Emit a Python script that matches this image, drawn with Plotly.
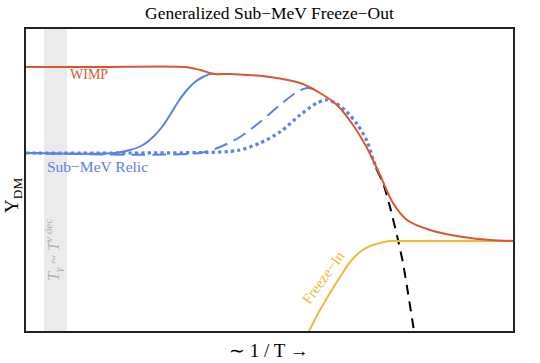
import plotly.graph_objects as go

# ---- data (arbitrary units) ----
wimp_x = [0, 74, 159, 174, 189, 204, 244, 274, 294, 311, 327, 341, 354, 367, 381, 404, 437, 464, 487]
wimp_y = [264, 264, 264, 261, 257, 257, 254, 248, 238, 226, 206, 183, 156, 128, 111, 101, 94, 91, 90]

relic_solid_x = [0, 89, 104, 117, 127, 136, 144, 152, 161, 169, 177, 184, 190]
relic_solid_y = [178, 178, 181, 186, 194, 204, 216, 229, 241, 249, 254, 257, 257]

relic_dash_x = [0, 174, 194, 214, 234, 254, 271, 281, 290]
relic_dash_y = [178, 178, 184, 194, 209, 226, 239, 243, 241]

relic_dot_x = [0, 194, 214, 234, 254, 274, 291, 301, 311, 321, 331, 341, 347, 352]
relic_dot_y = [178, 179, 181, 188, 199, 216, 228, 231, 227, 219, 207, 190, 172, 159]

boltz_x = [351, 357, 364, 372, 377, 382, 388]
boltz_y = [161, 148, 124, 91, 68, 38, 0]

fi_x = [283, 294, 304, 314, 324, 334, 344, 354, 364, 374, 487]
fi_y = [0, 21, 38, 54, 69, 79, 85, 88, 90, 90, 90]

band_x = [18, 41]

X_RANGE = [0, 487]
Y_RANGE = [0, 302]

RED = "#da5630"
BLUE = "#5b80ea"
YEL = "#f0b93c"
FONT = "Liberation Serif"

fig = go.Figure()

fig.add_shape(type="rect", x0=band_x[0], x1=band_x[1], y0=Y_RANGE[0], y1=Y_RANGE[1],
              xref="x", yref="y", fillcolor="#ebebeb", line_width=0, layer="below")

def line(x, y, color, width=2, dash="solid"):
    fig.add_trace(go.Scatter(x=x, y=y, mode="lines", line=dict(color=color, width=width, dash=dash, shape="spline", smoothing=0.8),
                             showlegend=False, hoverinfo="skip"))

line(relic_dot_x, relic_dot_y, BLUE, 3.2, "dot")
line(relic_dash_x, relic_dash_y, BLUE, 2, "14px,7px")
line(relic_solid_x, relic_solid_y, BLUE, 2)
line(boltz_x, boltz_y, "black", 2, "10px,7px")
line(fi_x, fi_y, YEL, 2)
line(wimp_x, wimp_y, RED, 2)

def note(x, y, text, size, color, ref="x", angle=0):
    return dict(x=x, y=y, xref=ref, yref=ref.replace("x", "y") if ref == "x" else ref, text=text,
                showarrow=False, textangle=angle, xanchor="center", yanchor="middle",
                font=dict(family=FONT, size=size, color=color))

ann = [
    note(63, 257, "WIMP", 14, RED),
    note(71, 165, "Sub\u2212MeV Relic", 15.5, BLUE),
    note(297, 53, "Freeze\u2212In", 15, YEL, angle=-54),
    note(27, 81, "<i>T</i><sub><i>γ</i></sub> ~ <i>T</i><sup><i>ν</i> dec</sup>", 16, "#b0b0b0", angle=-90),
    note(0.499, -0.063, "\u223c 1 / T \u2192", 19, "black", ref="paper"),
    note(-0.027, 0.45, "Y<sub>DM</sub>", 19, "black", ref="paper", angle=-90),
    note(0.501, 1.053, "Generalized Sub\u2212MeV Freeze\u2212Out", 17.5, "black", ref="paper"),
]

fig.update_layout(
    width=540, height=363,
    margin=dict(l=26, r=27, t=29, b=32),
    plot_bgcolor="white", paper_bgcolor="white",
    annotations=ann,
    xaxis=dict(range=X_RANGE, showgrid=False, zeroline=False, showticklabels=False, ticks="",
               showline=True, mirror=True, linecolor="#222222", linewidth=2),
    yaxis=dict(range=Y_RANGE, showgrid=False, zeroline=False, showticklabels=False, ticks="",
               showline=True, mirror=True, linecolor="#222222", linewidth=2),
)

# remove the default 8px page margin so the figure fills the window exactly
fig.write_html("out.html", config={"displayModeBar": False},
               post_script="document.body.style.margin='0px';document.body.style.overflow='hidden';")
